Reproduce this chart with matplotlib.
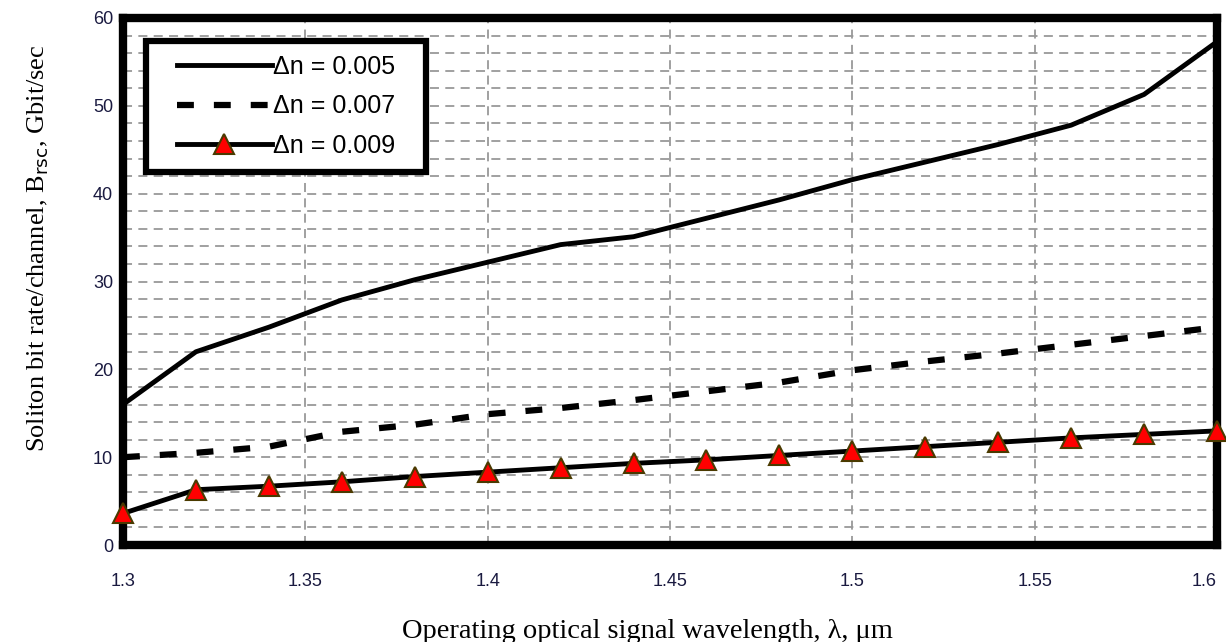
#!/usr/bin/env python3

import numpy as np
import matplotlib.pyplot as plt
from matplotlib.path import Path
from matplotlib.ticker import MultipleLocator, FormatStrFormatter

# Wavelength (um)
wl = [1.30, 1.32, 1.34, 1.36, 1.38, 1.40, 1.42, 1.44, 1.46, 1.48,
      1.50, 1.52, 1.54, 1.56, 1.58, 1.60]

# Soliton bit rate per channel (Gbit/sec)
b_005 = [16.0, 22.0, 24.8, 27.9, 30.2, 32.2, 34.2, 35.1, 37.2, 39.3,
         41.6, 43.6, 45.6, 47.8, 51.3, 57.3]
b_007 = [10.0, 10.5, 11.2, 12.9, 13.7, 14.9, 15.6, 16.5, 17.5, 18.5,
         19.9, 20.9, 21.8, 22.8, 23.8, 24.8]
b_009 = [3.6, 6.3, 6.7, 7.2, 7.8, 8.3, 8.8, 9.3, 9.7, 10.2,
         10.7, 11.2, 11.7, 12.2, 12.6, 13.0]

labels = ["\u0394n = 0.005", "\u0394n = 0.007", "\u0394n = 0.009"]


def wide_box(x0, y0, width, height, mutation_size):
	"""
	Legend frame with more room left and right than top and bottom.
	"""
	dx = 0.68 * mutation_size
	return Path([(x0 - dx, y0), (x0 + width + dx, y0), (x0 + width + dx, y0 + height),
	             (x0 - dx, y0 + height), (x0 - dx, y0)], closed=True)


fig = plt.figure(figsize=(12.26, 6.42), dpi=100)
ax = fig.add_axes([0.1003, 0.151, 0.8924, 0.821])

ax.plot(wl, b_005, color="black", lw=3.5, label=labels[0], zorder=3)
ax.plot(wl, b_007, color="black", lw=4.5, dashes=(2.7, 3.2), label=labels[1], zorder=3)
ax.plot(wl, b_009, color="black", lw=3.5, marker="^", markersize=14,
        markerfacecolor="#ff0000", markeredgecolor="#4a3a00", markeredgewidth=1.5,
        label=labels[2], zorder=4, clip_on=False)

ax.set_xlim(1.3, 1.6)
ax.set_ylim(0, 60)
ax.xaxis.set_major_locator(MultipleLocator(0.05))
ax.yaxis.set_major_locator(MultipleLocator(10))
ax.yaxis.set_minor_locator(MultipleLocator(2))
ax.xaxis.set_major_formatter(FormatStrFormatter("%g"))

ax.grid(which="both", axis="y", color="#999999", lw=1.3, linestyle=(0, (5, 3.5)))
ax.grid(which="major", axis="x", color="#999999", lw=1.3, linestyle=(0, (5, 3.5)))
ax.tick_params(which="both", length=0)
ax.tick_params(axis="x", pad=20, labelsize=13, labelcolor="#1a1a40")
ax.tick_params(axis="y", pad=7, labelsize=13, labelcolor="#1a1a40")
fig.canvas.draw()
for lab in ax.get_xticklabels() + ax.get_yticklabels():
	lab.set_family("Liberation Sans")
# keep the last x label inside the picture
for lab in ax.get_xticklabels():
	if abs(lab.get_position()[0] - 1.6) < 1e-6:
		lab.set_horizontalalignment("right")
		lab.set_x(1.6)

for s in ax.spines.values():
	s.set_linewidth(6)
	s.set_color("black")

ax.set_xlabel("Operating optical signal wavelength, \u03bb, \u03bcm",
              family="Liberation Serif", fontsize=20.5)
ax.xaxis.set_label_coords(0.479, -0.14)
ax.set_ylabel("Soliton bit rate/channel, B$_{\\rm rsc}$, Gbit/sec",
              family="Liberation Serif", fontsize=19)
ax.yaxis.set_label_coords(-0.066, 0.564)

leg = ax.legend(loc="upper left", bbox_to_anchor=(0.0366, 0.956), handlelength=3.8,
                handletextpad=0.05, borderpad=0.55, borderaxespad=0,
                labelspacing=0.62, fancybox=False, framealpha=1,
                prop={"family": "Liberation Sans", "size": 18})
leg.get_frame().set_boxstyle(wide_box)
leg.get_frame().set_edgecolor("black")
leg.get_frame().set_linewidth(4.5)
leg.set_zorder(5)

fig.savefig("out.png", dpi=100)
